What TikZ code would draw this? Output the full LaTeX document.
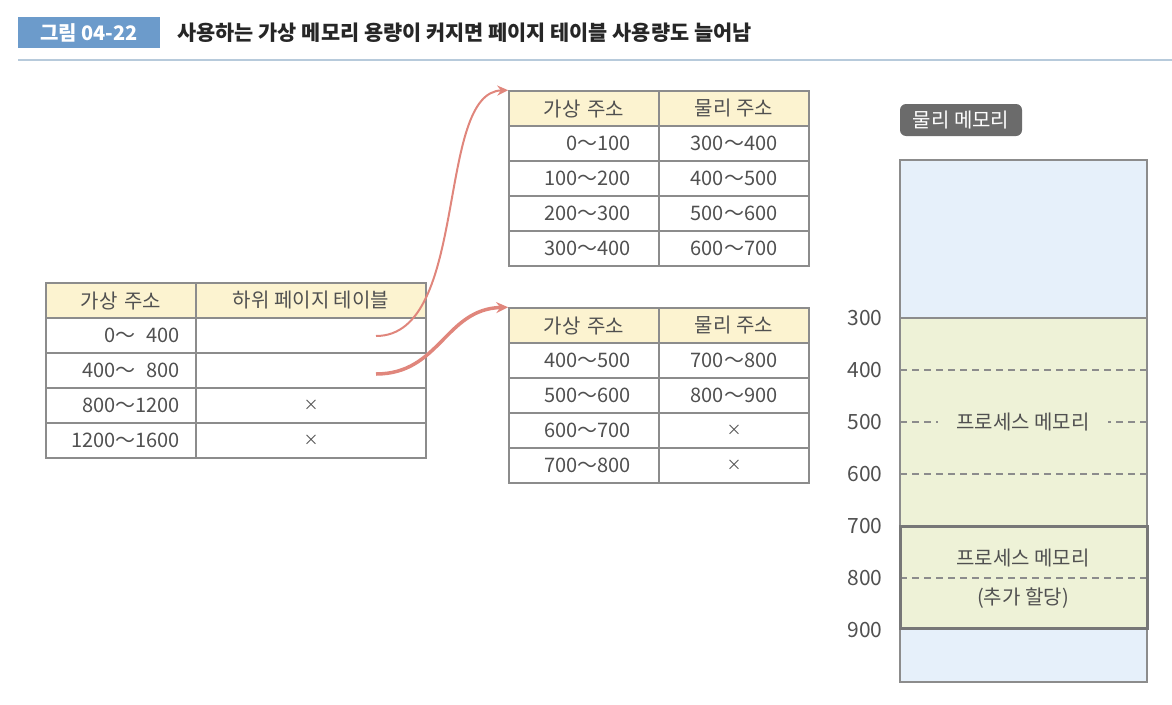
\documentclass[tikz,border=0pt]{standalone}
\usepackage{fontspec}
\setmainfont{Noto Sans CJK KR}
\usetikzlibrary{arrows.meta,positioning}
\definecolor{capblue}{HTML}{6C9BCB}
\definecolor{rulec}{HTML}{B7CADB}
\definecolor{gridc}{HTML}{8C8C8C}
\definecolor{headc}{HTML}{FCF3D0}
\definecolor{txtc}{HTML}{505050}
\definecolor{linkc}{HTML}{E0867C}
\definecolor{freec}{HTML}{E6F0FA}
\definecolor{procc}{HTML}{EEF2D7}
\definecolor{tagc}{HTML}{6B6B6B}
\tikzset{cell/.style={draw=gridc,line width=1.5pt,minimum height=35pt,inner ysep=0pt,text=txtc,font=\fontsize{20}{20}\selectfont},
         lefta/.style={cell,inner xsep=16pt,text width=118pt,align=right},
         leftb/.style={cell,inner xsep=0pt,minimum width=230pt},
         righta/.style={cell,inner xsep=28pt,text width=94pt,align=right},
         rightb/.style={cell,inner xsep=0pt,minimum width=150pt},
         head/.style={fill=headc,align=center},
         link/.style={draw=linkc,line width=2pt,-{Stealth[length=11pt,width=10pt]}},
         addr/.style={anchor=east,text=txtc,font=\fontsize{21}{21}\selectfont},
         dashln/.style={draw=gridc,line width=1.5pt,dash pattern=on 7pt off 5pt},
         memtxt/.style={text=txtc,font=\fontsize{20}{20}\selectfont,inner xsep=18pt}}
\newcommand{\nox}{{\fontsize{15}{15}\selectfont ×}}

\begin{document}
\begin{tikzpicture}[x=1pt,y=-1pt]
\useasboundingbox (0,0) rectangle (1172,704);

% caption
\node[fill=capblue,text=white,font=\bfseries\fontsize{20}{20}\selectfont,minimum width=142pt,minimum height=31pt] (cap) at (89,32.5) {그림 04-22};
\node[anchor=west,text=black!85,font=\bfseries\fontsize{20.8}{20.8}\selectfont] (title) at (174,32.5) {사용하는 가상 메모리 용량이 커지면 페이지 테이블 사용량도 늘어남};
\draw[rulec,line width=2pt] (18,60) -- (1172,60);

% upper table
\node[lefta,head] (L0a) at (121,300.5) {가상 주소};
\node[leftb,head] (L0b) at (311,300.5) {하위 페이지 테이블};
\foreach \a/\b [count=\i] in {{0～\phantom{1}400}/{},{400～\phantom{1}800}/{},800～1200/\nox,1200～1600/\nox} {
  \node[lefta] (L\i a) at (121,300.5+35*\i) {\a};
  \node[leftb] (L\i b) at (311,300.5+35*\i) {\b};
}

% lower tables
\node[righta,head] (T0a) at (584,108.5) {가상 주소};
\node[rightb,head] (T0b) at (734,108.5) {물리 주소};
\foreach \a/\b [count=\i] in {0～100/300～400,100～200/400～500,200～300/500～600,300～400/600～700} {
  \node[righta] (T\i a) at (584,108.5+35*\i) {\a};
  \node[rightb] (T\i b) at (734,108.5+35*\i) {\b};
}
\node[righta,head] (B0a) at (584,325.5) {가상 주소};
\node[rightb,head] (B0b) at (734,325.5) {물리 주소};
\foreach \a/\b [count=\i] in {400～500/700～800,500～600/800～900,600～700/\nox,700～800/\nox} {
  \node[righta] (B\i a) at (584,325.5+35*\i) {\a};
  \node[rightb] (B\i b) at (734,325.5+35*\i) {\b};
}

% links
\coordinate (s1) at (376,336);
\coordinate (s2) at (376,374);
\draw[link] (s1) .. controls (470,336) and (435,92) .. (T0a.north west);
\draw[link,line width=3.5pt,-{Stealth[length=12pt,width=11pt]}] (s2) .. controls (440,374) and (445,309) .. (B0a.north west);

% physical memory
\node[fill=tagc,text=white,rounded corners=6pt,minimum width=122pt,minimum height=32pt,font=\fontsize{20}{20}\selectfont] (tag) at (961,120) {물리 메모리};
\fill[freec] (900,160) rectangle (1147,682);
\fill[procc] (900,318) rectangle (1147,628);
\draw[gridc,line width=1.5pt] (900,160) rectangle (1147,682);
\draw[gridc,line width=1.5pt] (900,318) -- (1147,318);
\draw[dashln] (900,370) -- (1147,370);
\draw[dashln] (900,474) -- (1147,474);
\draw[dashln] (900,578) -- (1147,578);
\draw[gridc!85!black,line width=3pt] (900,526) rectangle (1147,628);
\node[memtxt] (proc) at (1023,422) {프로세스 메모리};
\draw[dashln] (900,422) -- (proc.west);
\draw[dashln] (1147,422) -- (proc.east);
\node[memtxt] (more) at (1023,558) {프로세스 메모리};
\node[memtxt] (extra) at (1023,598) {(추가 할당)};
\foreach \v [count=\k] in {300,400,...,900}
  \node[addr] (m\v) at (886,318+52*\k-52) {\v};
\end{tikzpicture}
\end{document}
